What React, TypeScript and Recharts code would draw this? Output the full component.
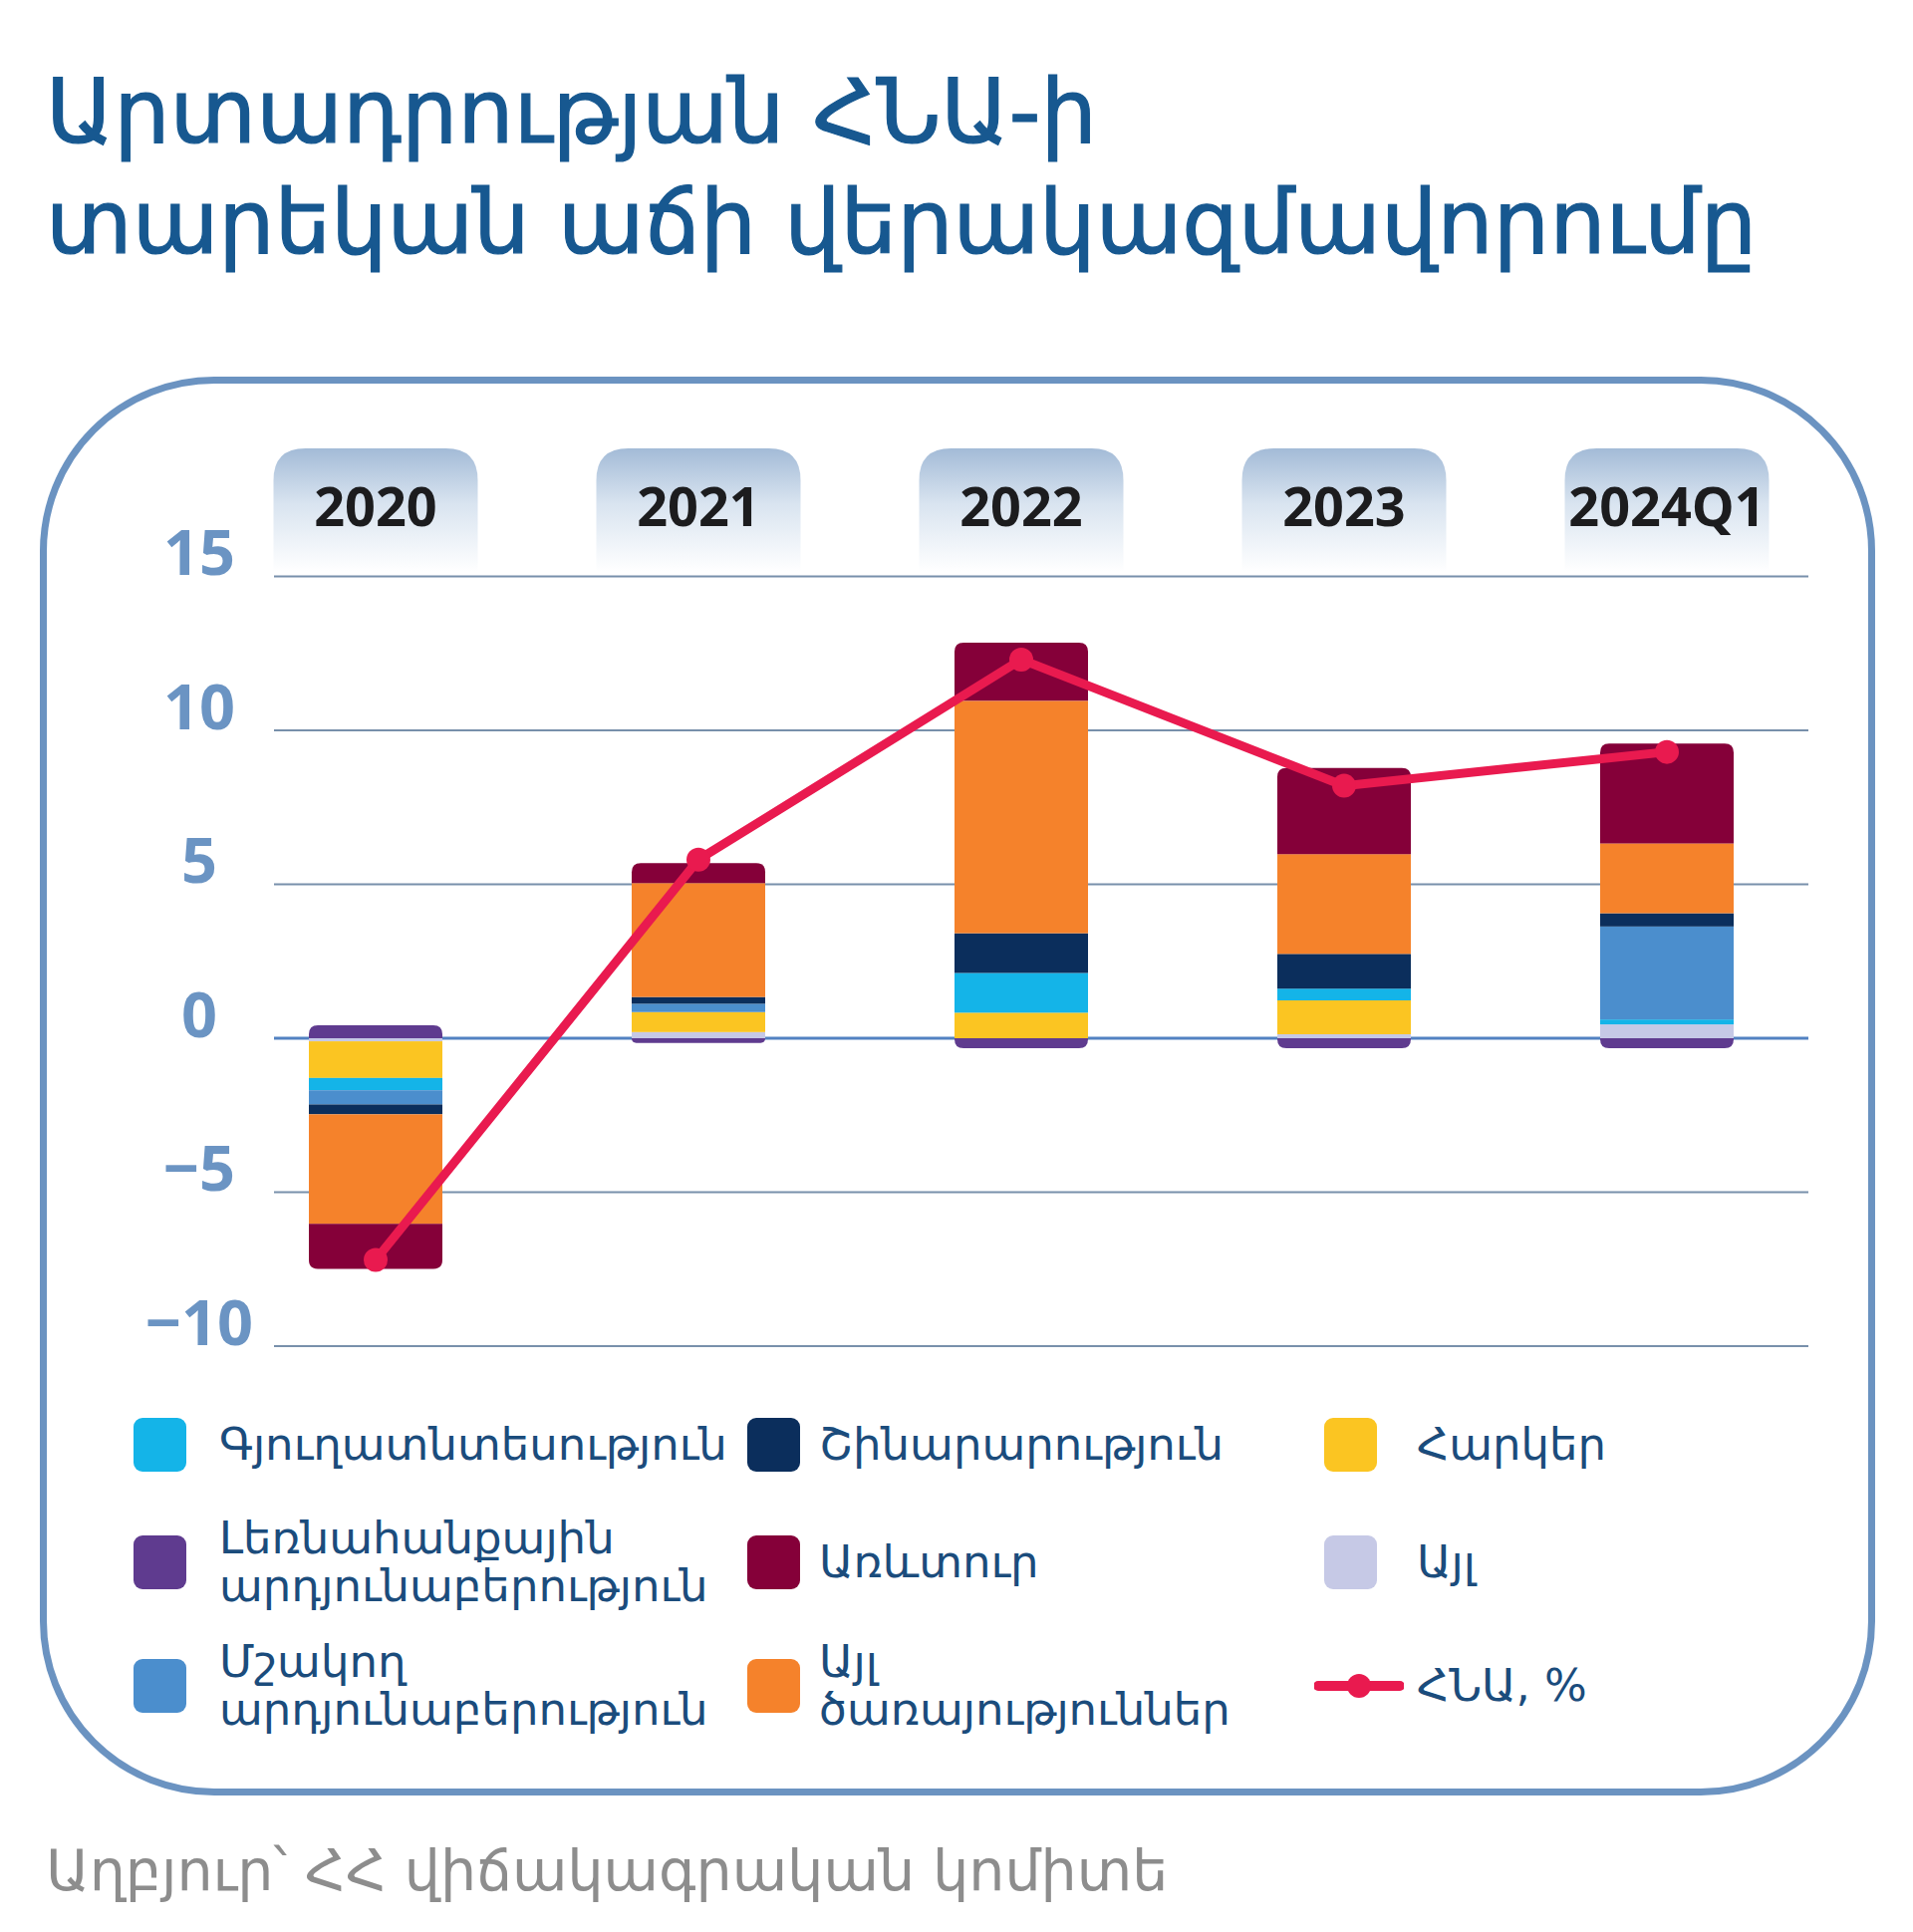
import React from "react";
import {
  ComposedChart,
  Bar,
  Line,
  XAxis,
  YAxis,
  CartesianGrid,
} from "recharts";

// periods
const periods = ["2020", "2021", "2022", "2023", "2024Q1"];

// contributions to growth, p.p.
const mining = [0.42, -0.15, -0.32, -0.32, -0.32];
const otherSectors = [-0.1, 0.2, 0, 0.13, 0.45];
const taxes = [-1.19, 0.65, 0.83, 1.1, 0];
const agriculture = [-0.4, 0, 1.29, 0.38, 0.16];
const manufacturing = [-0.46, 0.27, 0, 0, 3.02];
const construction = [-0.32, 0.22, 1.29, 1.13, 0.43];
const otherServices = [-3.56, 3.7, 7.55, 3.24, 2.27];
const trade = [-1.46, 0.65, 1.89, 2.8, 3.24];
const gdp = [-7.2, 5.8, 12.3, 8.2, 9.3];

const yTicks = [-10, -5, 0, 5, 10, 15];

// stack order, from zero outward
const series = [
  { key: "mining", label: ["Լեռնահանքային", "արդյունաբերություն"], color: "#5f3b8f", values: mining },
  { key: "other", label: ["Այլ"], color: "#c6c9e6", values: otherSectors },
  { key: "taxes", label: ["Հարկեր"], color: "#fbc522", values: taxes },
  { key: "agri", label: ["Գյուղատնտեսություն"], color: "#14b4e8", values: agriculture },
  { key: "manuf", label: ["Մշակող", "արդյունաբերություն"], color: "#4b8ecd", values: manufacturing },
  { key: "constr", label: ["Շինարարություն"], color: "#0b2e5c", values: construction },
  { key: "services", label: ["Այլ", "ծառայություններ"], color: "#f5822b", values: otherServices },
  { key: "trade", label: ["Առևտուր"], color: "#850039", values: trade },
];

const GDP_COLOR = "#e91a4f";
const GDP_LABEL = "ՀՆԱ, %";

const data = periods.map((p, i) => {
  const row: Record<string, any> = { period: p, gdp: gdp[i] };
  series.forEach((s) => (row[s.key] = s.values[i]));
  return row;
});

// legend grid: rows of keys
const legendRows = [
  ["agri", "constr", "taxes"],
  ["mining", "trade", "other"],
  ["manuf", "services", "gdp"],
];
const legendColX = [134, 750, 1329];
const legendTextX = [220, 822, 1422];
const legendRowY = [1450, 1568, 1692];

const FONT = "'DejaVu Sans', sans-serif";
const TEXT_BLUE = "#1b4c7c";

function segmentShape(key: string) {
  return (p: any) => {
    let { x, y, width, height } = p;
    if (height < 0) {
      y += height;
      height = -height;
    }
    const row = p.payload || {};
    const v = row[key];
    const side = v >= 0 ? 1 : -1;
    const same = series.filter((s) => (side > 0 ? row[s.key] > 0 : row[s.key] < 0));
    const outer = same.length > 0 && same[same.length - 1].key === key;
    if (!outer || height <= 0) {
      return <rect x={x} y={y} width={width} height={height} fill={p.fill} />;
    }
    const r = Math.min(9, height);
    const d =
      side > 0
        ? `M${x},${y + height} L${x},${y + r} Q${x},${y} ${x + r},${y} L${x + width - r},${y} Q${x + width},${y} ${x + width},${y + r} L${x + width},${y + height} Z`
        : `M${x},${y} L${x + width},${y} L${x + width},${y + height - r} Q${x + width},${y + height} ${x + width - r},${y + height} L${x + r},${y + height} Q${x},${y + height} ${x},${y + height - r} Z`;
    return <path d={d} fill={p.fill} />;
  };
}

function PeriodTick({ x, payload }: any) {
  const w = 205;
  const top = 450;
  const bottom = 574;
  const r = 32;
  const l = x - w / 2;
  const rr = x + w / 2;
  const d = `M${l},${bottom} L${l},${top + r} Q${l},${top} ${l + r},${top} L${rr - r},${top} Q${rr},${top} ${rr},${top + r} L${rr},${bottom} Z`;
  return (
    <g>
      <path d={d} fill="url(#pillGrad)" />
      <text
        x={x}
        y={507}
        textAnchor="middle"
        dominantBaseline="central"
        fontFamily="'Open Sans', sans-serif"
        fontWeight={700}
        fontSize={54}
        fill="#1c1c1e"
      >
        {payload.value}
      </text>
    </g>
  );
}

function ValueTick({ y, payload }: any) {
  const v = payload.value;
  const txt = v < 0 ? `\u2212${Math.abs(v)}` : `${v}`;
  return (
    <text
      x={200}
      y={y - 26}
      textAnchor="middle"
      dominantBaseline="central"
      fontFamily="'Open Sans', sans-serif"
      fontWeight={700}
      fontSize={63}
      fill="#6b94c3"
    >
      {txt}
    </text>
  );
}

function GridLine(props: any) {
  const { x1, x2, y1, y2, index } = props;
  const isZero = index === yTicks.indexOf(0);
  return (
    <line
      key={props.key}
      x1={x1 + 60}
      x2={x2 - 20}
      y1={y1}
      y2={y2}
      stroke={isZero ? "#5282c2" : "#7890ab"}
      strokeWidth={isZero ? 3 : 2}
    />
  );
}

function LegendBlock() {
  const byKey: Record<string, any> = {};
  series.forEach((s) => (byKey[s.key] = s));
  return (
    <>
      {legendRows.map((row, ri) =>
        row.map((k, ci) => {
          const left = legendColX[ci];
          const cy = legendRowY[ri];
          const isGdp = k === "gdp";
          const lines: string[] = isGdp ? [GDP_LABEL] : byKey[k].label;
          return (
            <div key={k}>
              {isGdp ? (
                <svg
                  width={90}
                  height={30}
                  style={{ position: "absolute", left: left - 10, top: cy - 15 }}
                >
                  <line x1={4} x2={86} y1={15} y2={15} stroke={GDP_COLOR} strokeWidth={10} strokeLinecap="round" />
                  <circle cx={45} cy={15} r={12} fill={GDP_COLOR} />
                </svg>
              ) : (
                <div
                  style={{
                    position: "absolute",
                    left,
                    top: cy - 27,
                    width: 53,
                    height: 54,
                    borderRadius: 9,
                    background: byKey[k].color,
                  }}
                />
              )}
              <div
                style={{
                  position: "absolute",
                  left: legendTextX[ci],
                  top: cy - (lines.length * 48) / 2,
                  fontFamily: FONT,
                  fontSize: 45,
                  lineHeight: "48px",
                  color: TEXT_BLUE,
                  whiteSpace: "nowrap",
                }}
              >
                {lines.map((ln) => (
                  <div key={ln}>{ln}</div>
                ))}
              </div>
            </div>
          );
        })
      )}
    </>
  );
}

export default function App() {
  return (
    <div style={{ position: "relative", width: 1920, height: 1939, background: "#ffffff", overflow: "hidden" }}>
      <style>{`body{margin:0}`}</style>
      <div
        style={{
          position: "absolute",
          left: 46,
          top: 57,
          fontFamily: FONT,
          fontSize: 89,
          lineHeight: "111px",
          color: "#175890",
          whiteSpace: "nowrap",
          WebkitTextStroke: "1.2px #175890",
        }}
      >
        <div>Արտադրության ՀՆԱ-ի</div>
        <div>տարեկան աճի վերակազմավորումը</div>
      </div>

      <div
        style={{
          position: "absolute",
          left: 40,
          top: 378,
          width: 1842,
          height: 1424,
          boxSizing: "border-box",
          border: "7px solid #6b93c1",
          borderRadius: 175,
        }}
      />

      <div style={{ position: "absolute", left: 0, top: 0 }}>
        <ComposedChart
          width={1920}
          height={1939}
          data={data}
          stackOffset="sign"
          margin={{ top: 448.5, right: 85, bottom: 588, left: 0 }}
        >
          <defs>
            <linearGradient id="pillGrad" x1="0" y1="0" x2="0" y2="1">
              <stop offset="0%" stopColor="#a3bbd7" />
              <stop offset="45%" stopColor="#d9e4f0" />
              <stop offset="100%" stopColor="#ffffff" />
            </linearGradient>
          </defs>
          <CartesianGrid vertical={false} horizontal={GridLine} />
          <XAxis
            dataKey="period"
            orientation="top"
            height={130}
            axisLine={false}
            tickLine={false}
            tick={<PeriodTick />}
            interval={0}
          />
          <YAxis
            domain={[-10, 15]}
            ticks={yTicks}
            width={215}
            axisLine={false}
            tickLine={false}
            tick={<ValueTick />}
          />
          {series.map((s) => (
            <Bar
              key={s.key}
              dataKey={s.key}
              stackId="a"
              fill={s.color}
              barSize={134}
              shape={segmentShape(s.key)}
              isAnimationActive={false}
            />
          ))}
          <Line
            dataKey="gdp"
            stroke={GDP_COLOR}
            strokeWidth={9}
            dot={{ r: 12, fill: GDP_COLOR, stroke: GDP_COLOR, strokeWidth: 0 }}
            activeDot={false}
            isAnimationActive={false}
          />
        </ComposedChart>
      </div>

      <LegendBlock />

      <div
        style={{
          position: "absolute",
          left: 46,
          top: 1843,
          fontFamily: FONT,
          fontSize: 57,
          lineHeight: "68px",
          color: "#8d8d8d",
          whiteSpace: "nowrap",
        }}
      >
        Աղբյուր՝ ՀՀ վիճակագրական կոմիտե
      </div>
    </div>
  );
}
